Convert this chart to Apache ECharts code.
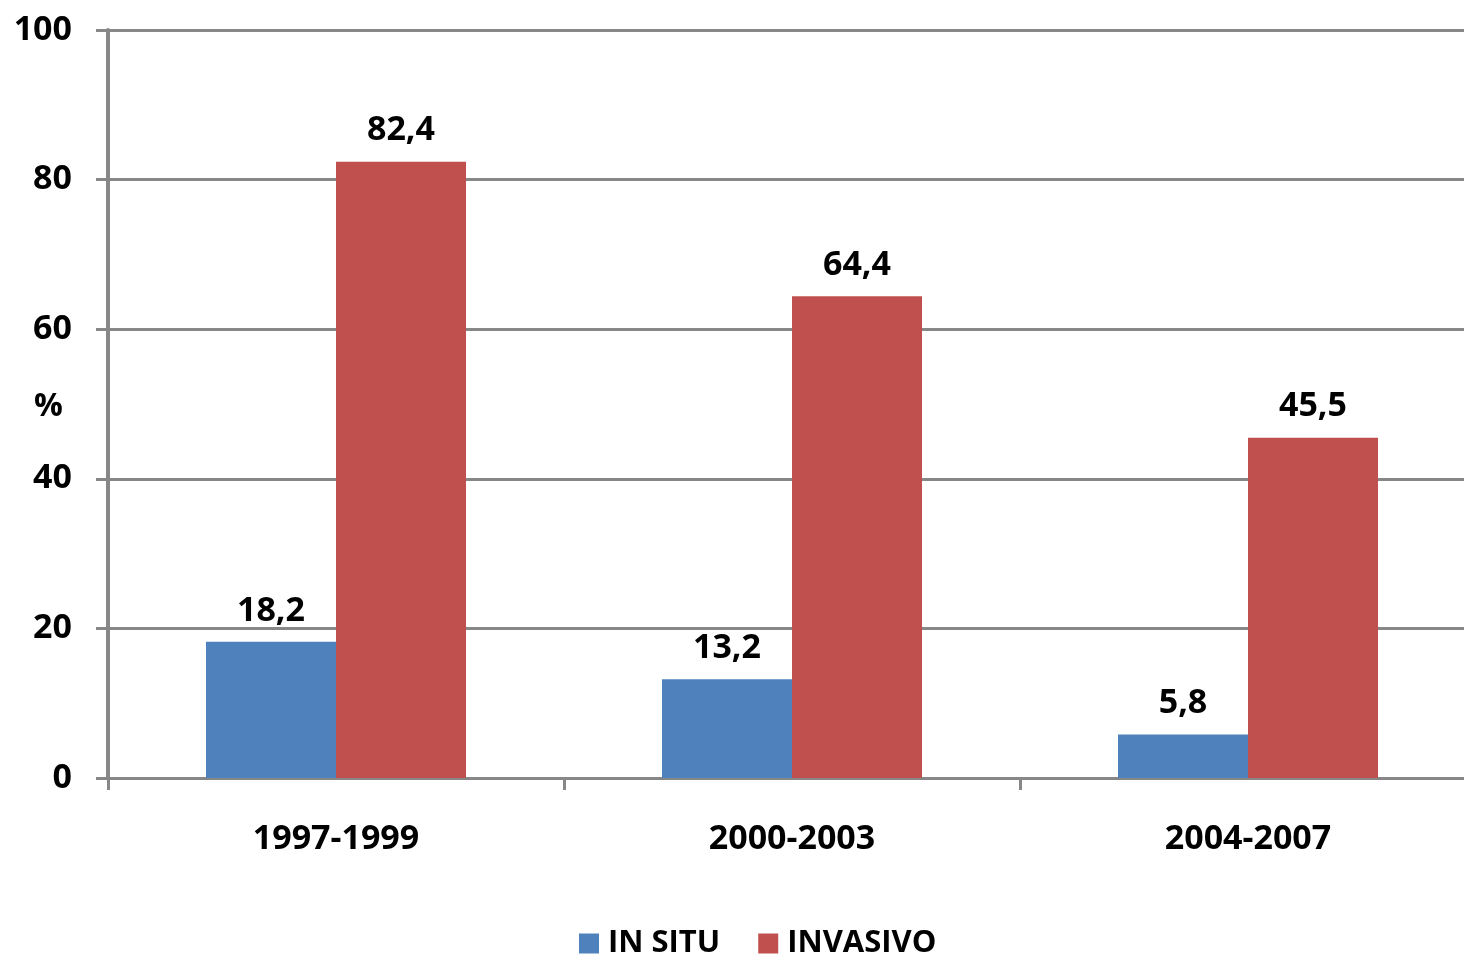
<!DOCTYPE html>
<html><head><meta charset="utf-8">
<script src="https://cdn.jsdelivr.net/npm/echarts@6/dist/echarts.min.js"></script>
<style>html,body{margin:0;padding:0;background:#fff}#c{width:1464px;height:956px}</style>
</head><body><div id="c"></div>
<script>
const categories = ['1997-1999', '2000-2003', '2004-2007'];
const inSitu = [18.2, 13.2, 5.8];
const invasivo = [82.4, 64.4, 45.5];
const seriesNames = ['IN SITU', 'INVASIVO'];
const yAxisName = '%';

const FONT = 'Open Sans';
const gray = '#878787';
const chart = echarts.init(document.getElementById('c'), null, {renderer: 'canvas'});
const lbl = {
  show: true, position: 'top', distance: 14, color: '#000', fontFamily: FONT,
  fontWeight: 'bold', fontSize: 34,
  formatter: p => String(p.value).replace('.', ',')
};
chart.setOption({
  animation: false,
  textStyle: {fontFamily: FONT},
  grid: {left: 108, top: 30, width: 1368, height: 748, containLabel: false, outerBoundsMode: 'none'},
  graphic: [{
    type: 'text', left: 34, top: 391,
    style: {text: yAxisName, fill: '#000', font: 'bold 32px "Open Sans"'}
  }],
  legend: {
    top: 923, left: 574, itemWidth: 20, itemHeight: 20, itemGap: 38,
    icon: 'rect',
    textStyle: {fontFamily: FONT, fontWeight: 'bold', fontSize: 31, color: '#000', padding: [0, 0, 0, 4]},
    data: seriesNames
  },
  xAxis: {
    type: 'category', data: categories,
    axisLine: {show: true, lineStyle: {color: gray, width: 3}},
    axisTick: {show: true, length: 12, lineStyle: {color: gray, width: 3}},
    axisLabel: {margin: 44, color: '#000', fontFamily: FONT, fontWeight: 'bold', fontSize: 34},
    splitLine: {show: false}
  },
  yAxis: {
    type: 'value', min: 0, max: 100, interval: 20,
    axisLine: {show: true, lineStyle: {color: gray, width: 4}},
    axisTick: {show: true, length: 12, lineStyle: {color: gray, width: 3}},
    axisLabel: {margin: 36, color: '#000', fontFamily: FONT, fontWeight: 'bold', fontSize: 34},
    splitLine: {show: true, lineStyle: {color: gray, width: 3}}
  },
  series: [
    {name: seriesNames[0], type: 'bar', data: inSitu, barWidth: 130, barGap: '0%',
     itemStyle: {color: '#4F81BD'}, label: lbl},
    {name: seriesNames[1], type: 'bar', data: invasivo, barWidth: 130, barGap: '0%',
     itemStyle: {color: '#C0504D'}, label: lbl}
  ]
});
</script></body></html>
